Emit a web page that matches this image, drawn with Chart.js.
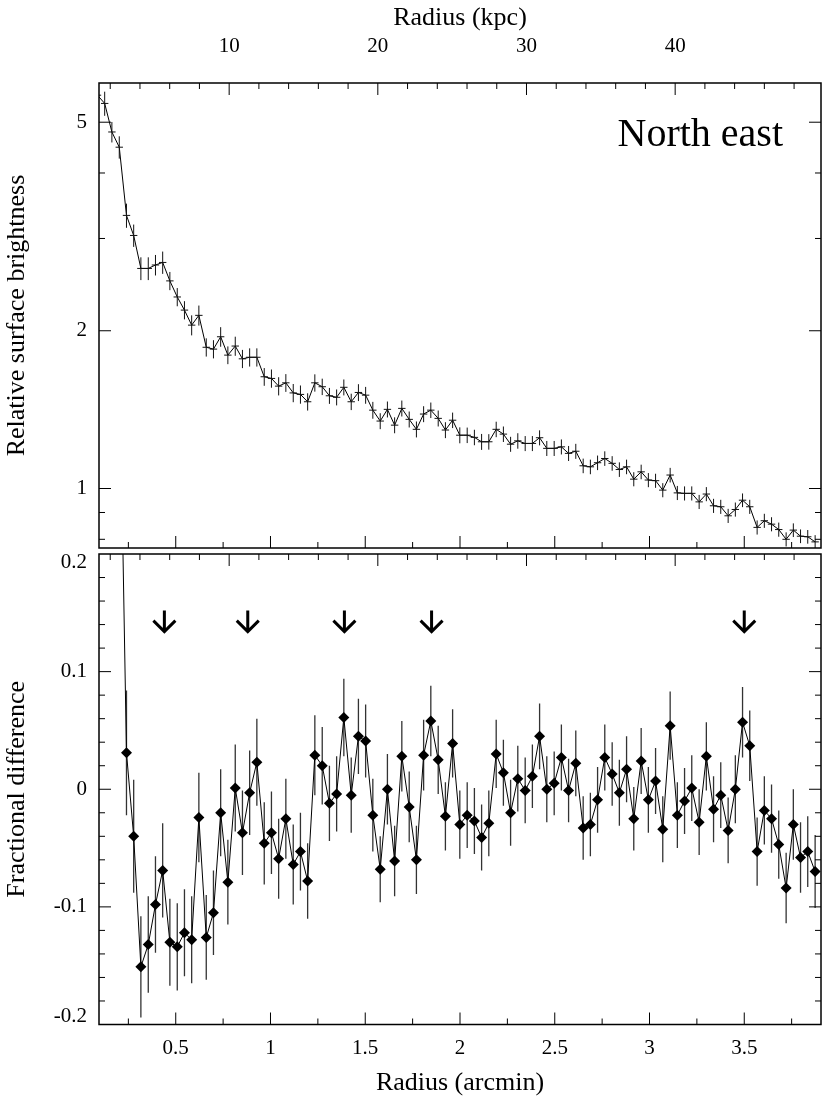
<!DOCTYPE html>
<html>
<head>
<meta charset="utf-8">
<script src="https://cdn.jsdelivr.net/npm/chart.js@4/dist/chart.umd.min.js"></script>
<style>
	html, body { margin: 0; padding: 0; background: #fff; }
	#wrap { position: relative; width: 830px; height: 1111px; }
	canvas { position: absolute; left: 0; }
	#sb-top { top: 0; }
	#sb-bottom { top: 548px; }
</style>
</head>
<body>
<div id="wrap">
	<canvas id="sb-top" width="830" height="551"></canvas>
	<canvas id="sb-bottom" width="830" height="563"></canvas>
</div>
<script>
// radius of each bin (arcmin)
var radius = [
	0.087, 0.125, 0.163, 0.202, 0.240, 0.278, 0.316, 0.355, 0.393, 0.431, 0.469,
	0.508, 0.546, 0.584, 0.622, 0.661, 0.699, 0.737, 0.775, 0.814, 0.852,
	0.890, 0.928, 0.967, 1.005, 1.043, 1.081, 1.120, 1.158, 1.196, 1.234,
	1.273, 1.311, 1.349, 1.387, 1.426, 1.464, 1.502, 1.540, 1.579, 1.617,
	1.655, 1.693, 1.732, 1.770, 1.808, 1.846, 1.885, 1.923, 1.961, 1.999,
	2.038, 2.076, 2.114, 2.152, 2.191, 2.229, 2.267, 2.305, 2.344, 2.382,
	2.420, 2.458, 2.497, 2.535, 2.573, 2.611, 2.650, 2.688, 2.726, 2.764,
	2.803, 2.841, 2.879, 2.917, 2.956, 2.994, 3.032, 3.070, 3.109, 3.147,
	3.185, 3.223, 3.262, 3.300, 3.338, 3.376, 3.415, 3.453, 3.491, 3.529,
	3.568, 3.606, 3.644, 3.682, 3.721, 3.759, 3.797, 3.835, 3.874
];

// relative surface brightness
var brightness = [
	5.63, 5.43, 4.79, 4.48, 3.32, 3.04, 2.63, 2.63, 2.67, 2.70, 2.49,
	2.32, 2.19, 2.05, 2.14, 1.86, 1.845, 1.948, 1.797, 1.87, 1.768,
	1.78, 1.78, 1.634, 1.622, 1.568, 1.591, 1.522, 1.512, 1.464, 1.591,
	1.564, 1.503, 1.493, 1.56, 1.464, 1.525, 1.507, 1.411, 1.345, 1.416,
	1.321, 1.422, 1.355, 1.297, 1.387, 1.411, 1.361, 1.293, 1.35, 1.264,
	1.264, 1.252, 1.228, 1.228, 1.297, 1.27, 1.215, 1.233, 1.219, 1.219,
	1.25, 1.193, 1.193, 1.201, 1.167, 1.178, 1.105, 1.10, 1.12, 1.141,
	1.117, 1.087, 1.10, 1.042, 1.076, 1.038, 1.035, 0.993, 1.061, 0.981,
	0.979, 0.979, 0.943, 0.976, 0.927, 0.923, 0.887, 0.912, 0.95, 0.923,
	0.843, 0.868, 0.855, 0.835, 0.80, 0.833, 0.811, 0.809, 0.791
];

// fractional 1-sigma error of the brightness
var brightnessErr = [
	0.055, 0.053, 0.045, 0.049, 0.053, 0.049, 0.050, 0.050, 0.045, 0.049, 0.040,
	0.040, 0.040, 0.044, 0.044, 0.040, 0.040, 0.043, 0.039, 0.042, 0.040,
	0.040, 0.040, 0.039, 0.040, 0.040, 0.039, 0.040, 0.040, 0.038, 0.038,
	0.036, 0.035, 0.035, 0.035, 0.036, 0.037, 0.037, 0.037, 0.035, 0.035,
	0.035, 0.035, 0.035, 0.035, 0.035, 0.034, 0.035, 0.035, 0.034, 0.035,
	0.034, 0.034, 0.035, 0.034, 0.034, 0.034, 0.033, 0.034, 0.033, 0.033,
	0.033, 0.033, 0.033, 0.033, 0.033, 0.033, 0.032, 0.032, 0.032, 0.032,
	0.032, 0.032, 0.032, 0.031, 0.032, 0.031, 0.031, 0.031, 0.032, 0.031,
	0.031, 0.031, 0.031, 0.031, 0.031, 0.031, 0.031, 0.031, 0.030, 0.031,
	0.031, 0.031, 0.031, 0.031, 0.031, 0.030, 0.030, 0.030, 0.030
];

// fractional difference from the smooth model
var fracDiff = [
	null, null, null, 0.38, 0.031, -0.040, -0.151, -0.132, -0.098, -0.069, -0.130,
	-0.134, -0.122, -0.128, -0.024, -0.126, -0.105, -0.020, -0.079, 0.001, -0.037,
	-0.003, 0.023, -0.046, -0.037, -0.059, -0.025, -0.064, -0.053, -0.078, 0.029,
	0.020, -0.012, -0.004, 0.061, -0.005, 0.045, 0.041, -0.022, -0.068, 0.000,
	-0.061, 0.028, -0.015, -0.060, 0.029, 0.058, 0.025, -0.023, 0.039, -0.030,
	-0.022, -0.027, -0.041, -0.029, 0.030, 0.014, -0.020, 0.009, -0.001, 0.011,
	0.045, 0.000, 0.005, 0.027, -0.001, 0.022, -0.033, -0.030, -0.009, 0.027,
	0.013, -0.003, 0.017, -0.025, 0.024, -0.009, 0.007, -0.034, 0.054, -0.022,
	-0.010, 0.001, -0.028, 0.028, -0.017, -0.005, -0.035, 0.000, 0.057, 0.037,
	-0.053, -0.018, -0.025, -0.047, -0.084, -0.030, -0.058, -0.053, -0.070
];

var fracDiffErr = [
	null, null, null, 0.060, 0.053, 0.048, 0.043, 0.041, 0.041, 0.040, 0.037,
	0.037, 0.037, 0.037, 0.038, 0.036, 0.036, 0.037, 0.036, 0.037, 0.036,
	0.036, 0.037, 0.035, 0.035, 0.034, 0.034, 0.034, 0.033, 0.032, 0.034,
	0.033, 0.032, 0.032, 0.033, 0.032, 0.032, 0.031, 0.031, 0.028, 0.030,
	0.030, 0.030, 0.030, 0.029, 0.030, 0.030, 0.029, 0.029, 0.029, 0.029,
	0.028, 0.028, 0.028, 0.028, 0.029, 0.028, 0.028, 0.028, 0.028, 0.027,
	0.028, 0.028, 0.027, 0.028, 0.027, 0.028, 0.027, 0.027, 0.028, 0.028,
	0.027, 0.028, 0.028, 0.027, 0.028, 0.028, 0.028, 0.028, 0.029, 0.028,
	0.028, 0.028, 0.028, 0.029, 0.028, 0.028, 0.028, 0.029, 0.030, 0.030,
	0.029, 0.029, 0.029, 0.029, 0.030, 0.030, 0.030, 0.030, 0.031
];

// features marked with arrows (arcmin)
var arrowRadius = [ 0.44, 0.88, 1.39, 1.85, 3.5 ];

// labelled ticks
var arcminLabels = [ 0.5, 1, 1.5, 2, 2.5, 3, 3.5 ];
var kpcLabels = [ 10, 20, 30, 40 ];
var brightLabels = [ 1, 2, 5 ];
var brightMinor = [ 0.8, 0.9, 3, 4 ];
var fracLabels = [ -0.2, -0.1, 0, 0.1, 0.2 ];

var X_MIN = 0.095, X_MAX = 3.905;
var KPC_MIN = 1.245, KPC_MAX = 49.81;
var HALF_BIN = 0.0195;
var ARROW_TOP = 0.152, ARROW_TIP = 0.134;

var FONT = 'Liberation Serif';
var tickFont = { family: FONT, size: 21 };
var titleFont = { family: FONT, size: 26 };

function isIn( list, v ) {
	for ( var i = 0; i < list.length; i++ ) {
		if ( Math.abs( list[ i ] - v ) < 1e-6 ) { return true; }
	}
	return false;
}

function stepTicks( from, to, step ) {
	var out = [];
	var n = Math.round( ( to - from ) / step );
	for ( var i = 0; i <= n; i++ ) {
		out.push( Math.round( ( from + i * step ) * 1000 ) / 1000 );
	}
	return out;
}

var arcminTicks = stepTicks( 0.25, 3.75, 0.25 );
var kpcTicks = stepTicks( 2, 48, 2 );
var fracTicks = stepTicks( -0.2, 0.2, 0.02 );
var brightTicks = brightMinor.concat( brightLabels ).sort( function ( a, b ) { return a - b; } );

function setTicks( values ) {
	return function ( scale ) {
		scale.ticks = values.map( function ( v ) { return { value: v }; } );
	};
}

// fixed axis size, and no extra padding from end labels
function fixSize( prop, size ) {
	return function ( scale ) {
		scale[ prop ] = size;
		scale.paddingTop = 0;
		scale.paddingBottom = 0;
		scale.paddingLeft = 0;
		scale.paddingRight = 0;
	};
}

function labelIf( labels ) {
	return function ( value ) {
		return isIn( labels, value ) ? String( Math.round( value * 100 ) / 100 ) : '';
	};
}

// inward tick marks on one edge of the frame
function edgeTicks( ctx, area, scale, edge, values, majors ) {
	values.forEach( function ( v ) {
		var len = isIn( majors, v ) ? 12 : 6;
		var p = scale.getPixelForValue( v );
		ctx.beginPath();
		if ( edge === 'bottom' ) {
			if ( p <= area.left || p >= area.right ) { return; }
			ctx.moveTo( p, area.bottom ); ctx.lineTo( p, area.bottom - len );
		} else if ( edge === 'top' ) {
			if ( p <= area.left || p >= area.right ) { return; }
			ctx.moveTo( p, area.top ); ctx.lineTo( p, area.top + len );
		} else if ( edge === 'left' ) {
			if ( p <= area.top || p >= area.bottom ) { return; }
			ctx.moveTo( area.left, p ); ctx.lineTo( area.left + len, p );
		} else {
			if ( p <= area.top || p >= area.bottom ) { return; }
			ctx.moveTo( area.right, p ); ctx.lineTo( area.right - len, p );
		}
		ctx.stroke();
	} );
}

var framePlugin = {
	id: 'frame',
	afterDraw: function ( chart ) {
		var ctx = chart.ctx;
		var a = chart.chartArea;
		var s = chart.scales;
		var yMajors = chart.canvas.id === 'sb-top' ? brightLabels : fracLabels;
		var yTicks = chart.canvas.id === 'sb-top' ? brightTicks : fracTicks;
		ctx.save();
		ctx.strokeStyle = '#000';
		ctx.lineWidth = 1;
		edgeTicks( ctx, a, s.x, 'bottom', arcminTicks, arcminLabels );
		edgeTicks( ctx, a, s.xTop, 'top', kpcTicks, kpcLabels );
		edgeTicks( ctx, a, s.y, 'left', yTicks, yMajors );
		edgeTicks( ctx, a, s.y, 'right', yTicks, yMajors );
		ctx.lineWidth = 1.5;
		ctx.strokeRect( a.left, a.top, a.right - a.left, a.bottom - a.top );
		ctx.restore();
	}
};

// crosses (bin width x error) for the brightness profile
var crossPlugin = {
	id: 'crosses',
	afterDatasetsDraw: function ( chart ) {
		var ctx = chart.ctx;
		var a = chart.chartArea;
		var x = chart.scales.x, y = chart.scales.y;
		ctx.save();
		ctx.beginPath();
		ctx.rect( a.left, a.top, a.right - a.left, a.bottom - a.top );
		ctx.clip();
		ctx.strokeStyle = '#111';
		ctx.lineWidth = 1;
		for ( var i = 0; i < radius.length; i++ ) {
			var v = brightness[ i ];
			if ( v === null ) { continue; }
			var px = x.getPixelForValue( radius[ i ] );
			var py = y.getPixelForValue( v );
			ctx.beginPath();
			ctx.moveTo( x.getPixelForValue( radius[ i ] - HALF_BIN ), py );
			ctx.lineTo( x.getPixelForValue( radius[ i ] + HALF_BIN ), py );
			ctx.moveTo( px, y.getPixelForValue( v * ( 1 + brightnessErr[ i ] ) ) );
			ctx.lineTo( px, y.getPixelForValue( v * ( 1 - brightnessErr[ i ] ) ) );
			ctx.stroke();
		}
		ctx.restore();
		ctx.save();
		ctx.fillStyle = '#000';
		ctx.font = '40px "' + FONT + '"';
		ctx.textAlign = 'right';
		ctx.textBaseline = 'alphabetic';
		ctx.fillText( 'North east', 783, 146 );
		ctx.restore();
	}
};

// vertical error bars, arrows and the end labels of the residual panel
var residPlugin = {
	id: 'resid',
	beforeDatasetsDraw: function ( chart ) {
		var ctx = chart.ctx;
		var a = chart.chartArea;
		var x = chart.scales.x, y = chart.scales.y;
		ctx.save();
		ctx.beginPath();
		ctx.rect( a.left, a.top, a.right - a.left, a.bottom - a.top );
		ctx.clip();
		ctx.strokeStyle = '#333';
		ctx.lineWidth = 1.3;
		for ( var i = 0; i < radius.length; i++ ) {
			var v = fracDiff[ i ];
			if ( v === null ) { continue; }
			var px = x.getPixelForValue( radius[ i ] );
			ctx.beginPath();
			ctx.moveTo( px, y.getPixelForValue( v + fracDiffErr[ i ] ) );
			ctx.lineTo( px, y.getPixelForValue( v - fracDiffErr[ i ] ) );
			ctx.stroke();
		}
		ctx.restore();
	},
	afterDatasetsDraw: function ( chart ) {
		var ctx = chart.ctx;
		var a = chart.chartArea;
		var x = chart.scales.x, y = chart.scales.y;
		ctx.save();
		ctx.strokeStyle = '#000';
		ctx.lineWidth = 3;
		arrowRadius.forEach( function ( r ) {
			var px = x.getPixelForValue( r );
			var top = y.getPixelForValue( ARROW_TOP );
			var tip = y.getPixelForValue( ARROW_TIP );
			ctx.beginPath();
			ctx.moveTo( px, top );
			ctx.lineTo( px, tip );
			ctx.moveTo( px - 11, tip - 11 );
			ctx.lineTo( px, tip );
			ctx.lineTo( px + 11, tip - 11 );
			ctx.stroke();
		} );
		ctx.fillStyle = '#000';
		ctx.font = '21px "' + FONT + '"';
		ctx.textAlign = 'right';
		ctx.textBaseline = 'middle';
		ctx.fillText( '0.2', a.left - 12, a.top + 8 );
		ctx.fillText( '-0.2', a.left - 12, a.bottom - 8 );
		ctx.restore();
	}
};

function points( values ) {
	return radius.map( function ( r, i ) { return { x: r, y: values[ i ] }; } );
}

Chart.defaults.font.family = FONT;
Chart.defaults.color = '#000';

new Chart( document.getElementById( 'sb-top' ), {
	type: 'line',
	data: {
		datasets: [ {
			data: points( brightness ),
			borderColor: '#000',
			borderWidth: 1,
			pointRadius: 0,
			tension: 0,
		} ],
	},
	options: {
		responsive: false,
		animation: false,
		events: [],
		layout: { padding: { left: 0, right: 9, top: 0, bottom: 0 } },
		plugins: { legend: { display: false }, tooltip: { enabled: false } },
		scales: {
			x: {
				type: 'linear', position: 'bottom', min: X_MIN, max: X_MAX,
				grid: { display: false }, border: { display: false },
				ticks: { display: false },
				afterFit: fixSize( 'height', 3 ),
			},
			xTop: {
				type: 'linear', position: 'top', min: KPC_MIN, max: KPC_MAX,
				grid: { display: false, drawTicks: false }, border: { display: false },
				afterBuildTicks: setTicks( kpcTicks ),
				ticks: { callback: labelIf( kpcLabels ), font: tickFont, padding: 24, autoSkip: false, maxRotation: 0, minRotation: 0 },
				title: { display: true, text: 'Radius (kpc)', font: titleFont, padding: { top: 3, bottom: 0 } },
				afterFit: fixSize( 'height', 83 ),
			},
			y: {
				type: 'logarithmic', position: 'left', min: 0.77, max: 5.94,
				grid: { display: false, drawTicks: false }, border: { display: false },
				afterBuildTicks: setTicks( brightTicks ),
				ticks: { callback: labelIf( brightLabels ), font: tickFont, padding: 12, autoSkip: false },
				title: { display: true, text: 'Relative surface brightness', font: titleFont, padding: { top: 2, bottom: 0 } },
				afterFit: fixSize( 'width', 99 ),
			},
		},
	},
	plugins: [ crossPlugin, framePlugin ],
} );

new Chart( document.getElementById( 'sb-bottom' ), {
	type: 'line',
	data: {
		datasets: [ {
			data: points( fracDiff ),
			borderColor: '#000',
			borderWidth: 1,
			pointStyle: 'rectRot',
			pointRadius: 5.5,
			pointBackgroundColor: '#000',
			pointBorderWidth: 0,
			tension: 0,
		} ],
	},
	options: {
		responsive: false,
		animation: false,
		events: [],
		layout: { padding: { left: 0, right: 9, top: 0, bottom: 0 } },
		plugins: { legend: { display: false }, tooltip: { enabled: false } },
		scales: {
			x: {
				type: 'linear', position: 'bottom', min: X_MIN, max: X_MAX,
				grid: { display: false, drawTicks: false }, border: { display: false },
				afterBuildTicks: setTicks( arcminTicks ),
				ticks: { callback: labelIf( arcminLabels ), font: tickFont, padding: 11, autoSkip: false, maxRotation: 0, minRotation: 0 },
				title: { display: true, text: 'Radius (arcmin)', font: titleFont, padding: { top: 0, bottom: 12 } },
				afterFit: fixSize( 'height', 86.5 ),
			},
			xTop: {
				type: 'linear', position: 'top', min: KPC_MIN, max: KPC_MAX,
				grid: { display: false }, border: { display: false },
				ticks: { display: false },
				afterFit: fixSize( 'height', 6 ),
			},
			y: {
				type: 'linear', position: 'left', min: -0.2, max: 0.2,
				grid: { display: false, drawTicks: false }, border: { display: false },
				afterBuildTicks: setTicks( fracTicks ),
				ticks: {
					callback: function ( v ) {
						if ( Math.abs( Math.abs( v ) - 0.2 ) < 1e-6 ) { return ''; }
						return labelIf( fracLabels )( v );
					},
					font: tickFont, padding: 12, autoSkip: false,
				},
				title: { display: true, text: 'Fractional difference', font: titleFont, padding: { top: 2, bottom: 0 } },
				afterFit: fixSize( 'width', 99 ),
			},
		},
	},
	plugins: [ residPlugin, framePlugin ],
} );
</script>
</body>
</html>
